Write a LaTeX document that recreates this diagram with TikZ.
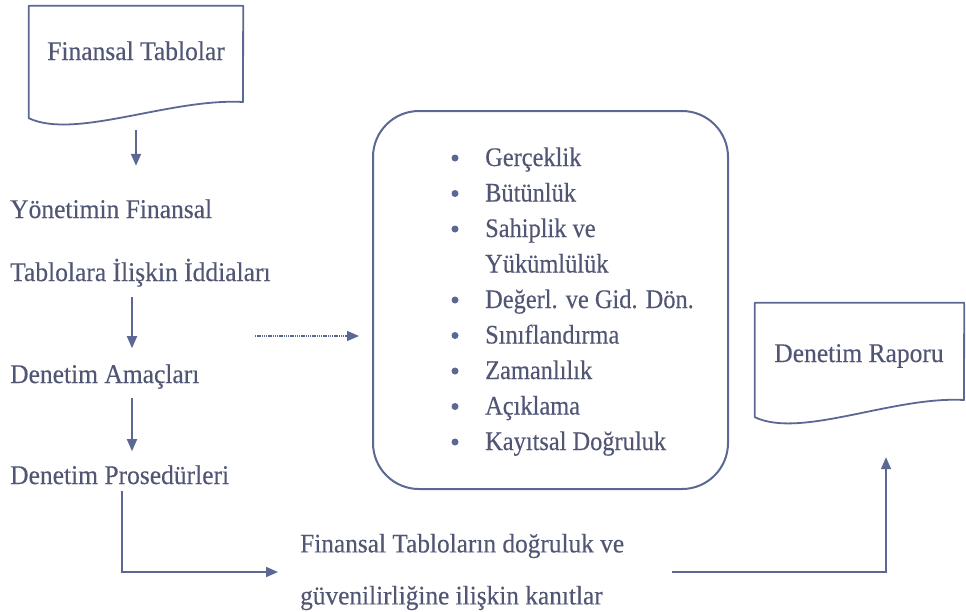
\documentclass[tikz,border=0pt]{standalone}
\usepackage{fontspec}
\setmainfont{Liberation Serif}
\newfontfamily\timesface{Liberation Serif}[FakeStretch=0.945, FakeBold=0.3]
\newfontfamily\listface{Liberation Serif}[FakeStretch=0.91, FakeBold=0.3]
\usetikzlibrary{arrows.meta}
\definecolor{edge}{RGB}{92,104,148}
\definecolor{ink}{RGB}{80,86,116}
\tikzset{
  flowtext/.style={font=\timesface\fontsize{27}{30}\selectfont, text=ink, inner sep=0pt,
                   text height=19pt, text depth=5pt},
  itemtext/.style={font=\listface\fontsize{26.8}{30}\selectfont, text=ink, inner sep=0pt, anchor=base west},
  evtext/.style={font=\timesface\fontsize{26.8}{52}\selectfont, text=ink, inner sep=0pt, align=left},
  docarea/.style={inner sep=0pt, draw=none},
  docframe/.style={draw=edge, line width=1.8pt, line join=round},
  flow/.style={draw=edge, line width=1.8pt, -{Triangle[length=12pt,width=10pt]}},
  hint/.style={flow, line width=1.5pt, dash pattern=on 1.4pt off 0.8pt},
  critbox/.style={draw=edge, line width=2pt, rounded corners=46pt,
                  minimum width=355pt, minimum height=378pt, inner sep=0pt},
  dot/.style={fill=edge},
}
\begin{document}
\begin{tikzpicture}[x=1pt,y=-1pt]
\useasboundingbox (0,0) rectangle (966,611);

% source document
\node[docarea, minimum width=214pt, minimum height=112pt] (ftdoc) at (136,62) {};
\draw[docframe] (ftdoc.north west) -- (ftdoc.north east) -- (243,102)
  .. controls (170,98) and (75,140) .. (ftdoc.south west) -- cycle;
\node[flowtext, anchor=base] (ft) at (136,60) {Finansal Tablolar};

% left column
\node[flowtext, anchor=base west] (yon1) at (10,218) {Yönetimin Finansal};
\node[flowtext, anchor=base west] (yon2) at (10,281) {Tablolara İlişkin İddiaları};
\node[flowtext, anchor=base west] (amac) at (10,383) {Denetim Amaçları};
\node[flowtext, anchor=base west] (proc) at (10,484) {Denetim Prosedürleri};

\draw[flow, shorten <=12pt, shorten >=33pt] (ftdoc.south) -- (ftdoc.south |- yon1.north);
\draw[flow, shorten <=11pt, shorten >=18pt] (yon2.south west) ++(122,0) -- ++(0,80);
\draw[flow, shorten <=10pt, shorten >=16pt] (amac.south west) ++(122,0) -- ++(0,79);

% assertions box
\node[critbox] (crit) at (550.5,300) {};
\coordinate (hintstart) at (255,336);
\draw[hint, shorten >=13pt] (hintstart) -- (hintstart -| crit.west);

\node[itemtext] (i1) at (485,166)   {Gerçeklik};
\node[itemtext] (i2) at (485,201.5) {Bütünlük};
\node[itemtext] (i3) at (485,237)   {Sahiplik ve};
\node[itemtext] (i3b) at (485,272.5) {Yükümlülük};
\node[itemtext] (i4) at (485,308)   {Değerl. ve Gid. Dön.};
\node[itemtext] (i5) at (485,343.5) {Sınıflandırma};
\node[itemtext] (i6) at (485,379)   {Zamanlılık};
\node[itemtext] (i7) at (485,414.5) {Açıklama};
\node[itemtext] (i8) at (485,450)   {Kayıtsal Doğruluk};
\foreach \n in {i1,i2,i3,i4,i5,i6,i7,i8}
  \fill[dot] (\n.base west) ++(-30,-8) circle (3.5pt);

% evidence
\node[evtext, anchor=west] (ev) at (300,572)
  {Finansal Tabloların doğruluk ve\\güvenilirliğine ilişkin kanıtlar};
\draw[flow, shorten >=22pt] (proc.south west) ++(112,2) |- (ev.west);

% report document
\node[docarea, minimum width=209pt, minimum height=114pt] (repdoc) at (859.5,360) {};
\draw[docframe] (repdoc.north west) -- (repdoc.north east) -- (964,400)
  .. controls (893,396) and (801,439) .. (repdoc.south west) -- cycle;
\node[flowtext, anchor=base] (rep) at (859,362) {Denetim Raporu};

\draw[flow, shorten <=48pt, shorten >=40pt] (ev.east) -| ([xshift=26.5pt]repdoc.south);
\end{tikzpicture}
\end{document}
